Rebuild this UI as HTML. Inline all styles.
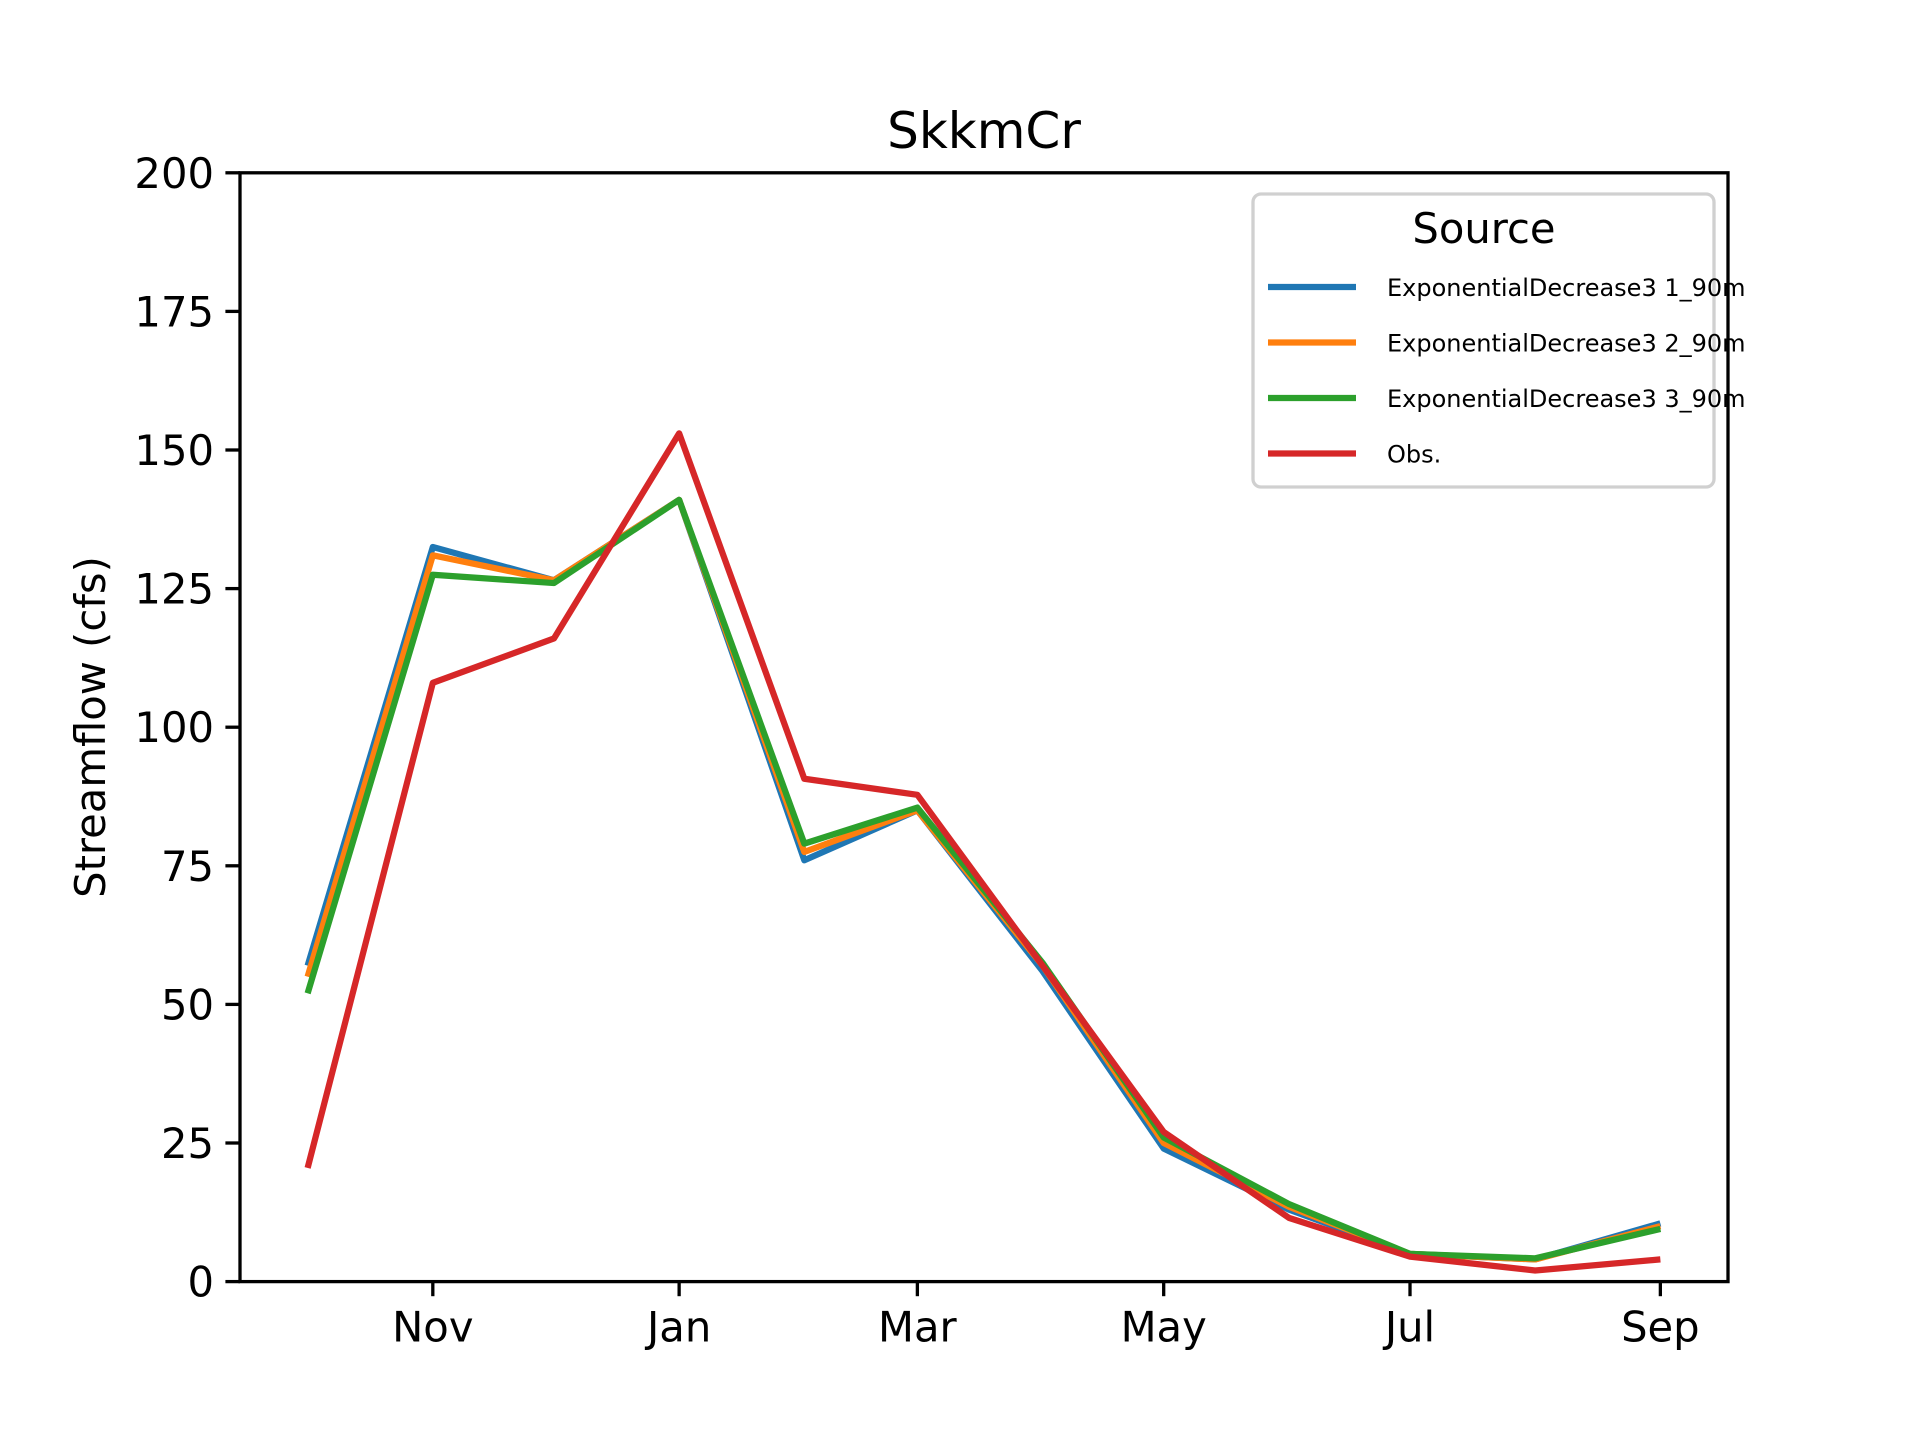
<!DOCTYPE html>
<html><head><meta charset="utf-8"><style>
html,body{margin:0;padding:0;background:#fff;}
svg{display:block;font-family:"DejaVu Sans","Liberation Sans",sans-serif;}
</style></head><body>
<svg id="chart" width="1920" height="1440" viewBox="0 0 1920 1440">
<rect width="1920" height="1440" fill="#fff"/>
<text x="984" y="148" font-size="50" text-anchor="middle">SkkmCr</text>
<text transform="translate(105,727) rotate(-90)" font-size="41.7" text-anchor="middle">Streamflow (cfs)</text>
<g id="ticks"></g>
<g id="lines"></g>
<rect x="240" y="172.8" width="1488" height="1108.8" fill="none" stroke="#000" stroke-width="3.3"/>
<g id="legend">
<rect x="1253" y="194" width="461" height="293" rx="8" fill="#fff" fill-opacity="0.8" stroke="#d0d0d0" stroke-width="3.3"/>
<text x="1484" y="243" font-size="41.7" text-anchor="middle">Source</text>
</g>
</svg>
<script>
const days = [0,31,61,92,123,151,182,212,243,273,304,335];
const seriesNames = ["ExponentialDecrease3 1_90m","ExponentialDecrease3 2_90m","ExponentialDecrease3 3_90m","Obs."];
const seriesColors = ["#1f77b4","#ff7f0e","#2ca02c","#d62728"];
const blue = [57,132.5,126.5,141,76,85,56,24,13,5,4,10.5];
const orange = [55,131,126.5,141,77.5,85,57,25,13.5,5,4,10];
const green = [52,127.5,126,141,79,85.5,57.5,26,14,5,4.2,9.5];
const obs = [20.5,108,116,153,90.7,87.8,57,27,11.5,4.5,2,4];
const yTicks = [0,25,50,75,100,125,150,175,200];
const xTickLabels = ["Nov","Jan","Mar","May","Jul","Sep"];
const xTickDays = [31,92,151,212,273,335];

const L=240,R=1728,T=172.8,B=1281.6;
const xmin=-16.75,xmax=351.75,ymin=0,ymax=200;
const sx=d=>L+(d-xmin)/(xmax-xmin)*(R-L);
const sy=v=>B-(v-ymin)/(ymax-ymin)*(B-T);
const NS="http://www.w3.org/2000/svg";
const tg=document.getElementById('ticks');
yTicks.forEach(v=>{
  const y=sy(v);
  const l=document.createElementNS(NS,'line');
  l.setAttribute('x1',L-14.6);l.setAttribute('x2',L);l.setAttribute('y1',y);l.setAttribute('y2',y);
  l.setAttribute('stroke','#000');l.setAttribute('stroke-width','3.3');
  
  
  tg.appendChild(l);
  const t=document.createElementNS(NS,'text');
  t.setAttribute('x',L-26);t.setAttribute('y',y+15);t.setAttribute('font-size','41.7');t.setAttribute('text-anchor','end');
  t.textContent=v;
  
  
  tg.appendChild(t);
});
xTickDays.forEach((d,i)=>{
  const x=sx(d);
  const l=document.createElementNS(NS,'line');
  l.setAttribute('x1',x);l.setAttribute('x2',x);l.setAttribute('y1',B);l.setAttribute('y2',B+14.6);
  l.setAttribute('stroke','#000');l.setAttribute('stroke-width','3.3');
  
  
  tg.appendChild(l);
  const t=document.createElementNS(NS,'text');
  t.setAttribute('x',x);t.setAttribute('y',B+60);t.setAttribute('font-size','41.7');t.setAttribute('text-anchor','middle');
  t.textContent=xTickLabels[i];
  
  
  tg.appendChild(t);
});
const lg=document.getElementById('lines');
const leg=document.getElementById('legend');
[blue,orange,green,obs].forEach((s,i)=>{
  const p=document.createElementNS(NS,'polyline');
  p.setAttribute('points',s.map((v,j)=>sx(days[j])+','+sy(v)).join(' '));
  p.setAttribute('fill','none');p.setAttribute('stroke',seriesColors[i]);p.setAttribute('stroke-width','6.25');
  p.setAttribute('stroke-linejoin','round');
  
  
  lg.appendChild(p);
  const y=287+i*55.5;
  const l=document.createElementNS(NS,'line');
  l.setAttribute('x1',1268);l.setAttribute('x2',1356);l.setAttribute('y1',y);l.setAttribute('y2',y);
  l.setAttribute('stroke',seriesColors[i]);l.setAttribute('stroke-width','6.25');
  
  
  leg.appendChild(l);
  const t=document.createElementNS(NS,'text');
  t.setAttribute('x',1387);t.setAttribute('y',y+9);t.setAttribute('font-size','24');
  t.textContent=seriesNames[i];
  
  
  leg.appendChild(t);
});
</script>
</body></html>
